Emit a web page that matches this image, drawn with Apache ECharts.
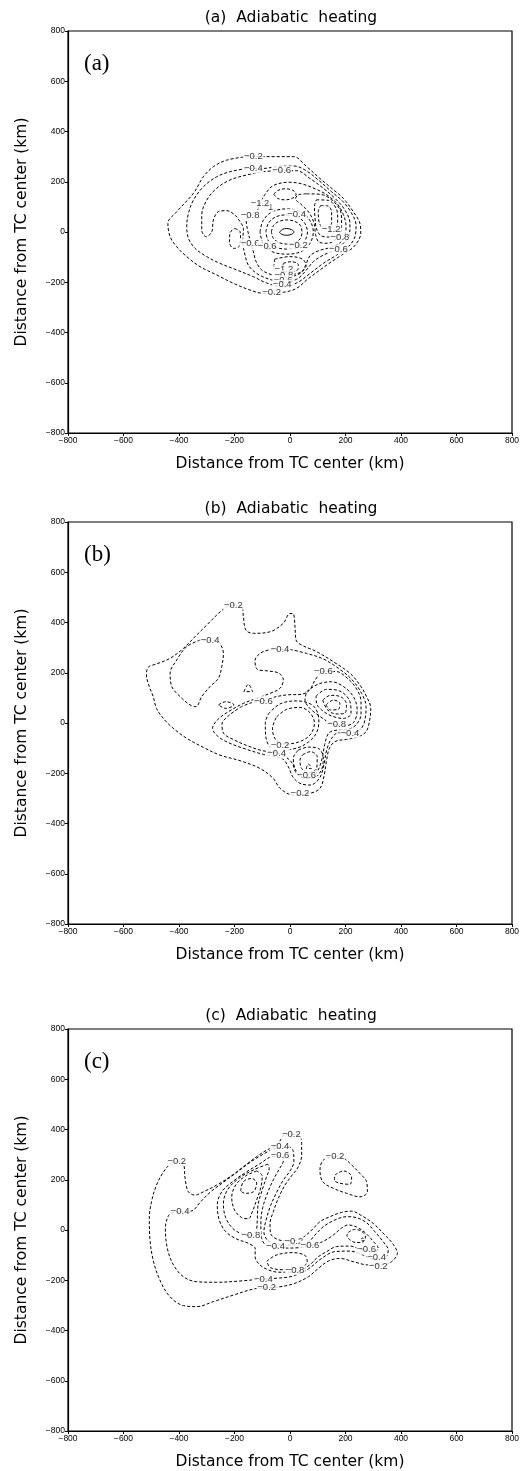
<!DOCTYPE html>
<html><head><meta charset="utf-8">
<script src="https://cdn.jsdelivr.net/npm/echarts/dist/echarts.min.js"></script>
<style>html,body{margin:0;padding:0;background:#fff}#c{width:528px;height:1471px}</style>
</head><body><div id="c"></div>
<script>
// ---------- Panel (a) contour lines, km ----------
const A_m02 = [[-156,300],[12,300],[60,260],[108,213],[150,174],[192,134],[228,81],[252,34],[255,-5],[240,-45],[216,-72],[186,-92],[150,-118],[108,-151],[60,-191],[24,-224],[-24,-240],[-96,-244],[-144,-231],[-204,-204],[-264,-171],[-324,-138],[-372,-98],[-408,-59],[-432,-19],[-440,34],[-408,81],[-348,154],[-312,220],[-276,260],[-228,286],[-156,300]];
const A_m04 = [[-156,253],[-216,240],[-264,220],[-312,180],[-348,127],[-366,74],[-372,21],[-366,-25],[-342,-65],[-300,-98],[-252,-125],[-192,-151],[-132,-178],[-84,-203],[-30,-218],[24,-203],[72,-165],[120,-125],[168,-92],[210,-59],[234,-19],[238,28],[222,74],[192,120],[150,160],[102,207],[54,247],[12,263],[-48,260],[-96,253],[-156,253]];
const A_m06 = [[-36,244],[24,244],[72,213],[120,174],[162,134],[198,87],[216,34],[214,-12],[192,-45],[162,-72],[120,-92],[84,-118],[54,-158],[24,-188],[-24,-200],[-72,-189],[-120,-165],[-150,-132],[-162,-92],[-170,-39],[-168,14],[-180,41],[-198,67],[-228,85],[-258,81],[-276,48],[-282,1],[-302,-19],[-318,8],[-318,67],[-300,127],[-264,174],[-216,207],[-156,227],[-96,240],[-36,244]];
const A_m06b = [[-199,14],[-180,1],[-178,-32],[-186,-61],[-204,-65],[-218,-39],[-216,-3],[-199,14]];
const A_m08 = [[-144,65],[-120,81],[-108,114],[-90,150],[-60,185],[0,198],[48,190],[90,172],[130,150],[168,115],[192,70],[202,20],[196,-20],[178,-45],[144,-62],[102,-75],[72,-95],[58,-128],[42,-160],[12,-176],[-24,-180],[-66,-170],[-102,-151],[-122,-118],[-132,-79],[-144,-32],[-154,14],[-158,48],[-144,65]];
const A_m10n = [[-58,150],[-45,165],[-18,172],[10,166],[22,150],[10,135],[-18,128],[-45,134],[-58,150]];
const A_z00 = [[-38,-2],[-28,10],[-12,14],[6,9],[14,0],[6,-9],[-12,-13],[-28,-10],[-38,-2]];
const A_r02 = [[-67,0],[-60,25],[-40,42],[-12,48],[18,42],[38,25],[43,0],[38,-25],[18,-42],[-12,-48],[-40,-42],[-60,-25],[-67,0]];
const A_r04 = [[-87,0],[-78,35],[-52,60],[-12,68],[28,60],[53,35],[63,0],[53,-35],[28,-60],[-12,-68],[-52,-60],[-78,-35],[-87,0]];
const A_r06 = [[-108,0],[-97,45],[-65,80],[-12,92],[40,80],[72,45],[84,0],[72,-45],[40,-78],[-12,-88],[-65,-78],[-97,-45],[-108,0]];
const A_ne14 = [[110,105],[135,104],[150,80],[150,40],[140,15],[120,15],[105,40],[102,80],[110,105]];
const A_ne12 = [[95,128],[138,126],[166,95],[172,50],[163,5],[140,-20],[112,-15],[95,15],[90,60],[88,100],[95,128]];
const A_ne10 = [[60,152],[110,150],[160,118],[185,70],[186,20],[168,-25],[135,-45],[105,-40],[92,-10],[88,30],[70,75],[40,110],[20,132],[30,148],[60,152]];
const A_s12 = [[-25,-125],[5,-118],[30,-130],[28,-150],[0,-158],[-25,-150],[-25,-125]];
const A_s10 = [[-55,-108],[0,-98],[45,-108],[58,-135],[42,-158],[10,-168],[-35,-163],[-58,-142],[-55,-108]];
const A_labels = [[-132,300,'-0.2'],[-132,253,'-0.4'],[-30,244,'-0.6'],[-144,65,'-0.8'],[-80,98,'-1'],[-108,112,'-1.2'],[24,72,'-0.4'],[-144,-45,'-0.6'],[-82,-56,'-0.6'],[30,-55,'-0.2'],[148,10,'-1.2'],[180,-20,'-0.8'],[174,-69,'-0.6'],[-22,-150,'-1.2'],[-22,-172,'-0.8'],[-25,-192,'-0.6'],[-28,-210,'-0.4'],[-66,-242,'-0.2']];

// ---------- Panel (b) ----------
const B_m02 = [[-204,470],[-174,463],[-168,423],[-159,370],[-132,357],[-72,363],[-24,397],[0,436],[12,434],[18,383],[22,330],[42,310],[96,284],[156,244],[216,198],[252,151],[276,105],[291,58],[286,5],[274,-35],[246,-55],[204,-65],[162,-74],[142,-101],[132,-147],[122,-214],[108,-260],[72,-280],[12,-287],[-36,-260],[-60,-221],[-108,-181],[-180,-150],[-252,-128],[-312,-97],[-372,-61],[-421,-21],[-457,19],[-481,58],[-493,105],[-507,145],[-517,191],[-511,222],[-481,235],[-433,257],[-384,297],[-342,344],[-300,390],[-258,436],[-228,463],[-204,470]];
const B_m04a = [[-324,330],[-372,304],[-408,251],[-432,198],[-426,145],[-396,105],[-360,72],[-339,65],[-318,105],[-288,145],[-258,178],[-246,224],[-240,277],[-252,317],[-264,328],[-324,330]];
const B_m04 = [[0,293],[60,277],[120,255],[174,218],[222,174],[258,118],[274,65],[270,12],[254,-25],[216,-41],[174,-39],[150,-61],[132,-108],[122,-167],[106,-220],[72,-247],[36,-240],[10,-214],[-6,-174],[-24,-145],[-48,-135],[-96,-125],[-156,-105],[-216,-81],[-258,-55],[-279,-21],[-262,12],[-222,45],[-168,78],[-120,98],[-72,118],[-36,138],[-24,171],[-39,198],[-78,207],[-118,214],[-126,248],[-108,277],[-78,290],[-36,293],[0,293]];
const B_m06 = [[-180,62],[-138,81],[-96,88],[-60,102],[-10,112],[40,114],[70,130],[90,170],[120,205],[165,205],[210,175],[240,135],[256,85],[256,35],[240,-5],[210,-25],[170,-28],[140,-40],[125,-85],[116,-140],[100,-190],[78,-215],[48,-218],[22,-198],[8,-160],[-12,-138],[-50,-118],[-100,-110],[-150,-92],[-200,-68],[-240,-40],[-245,-5],[-220,30],[-180,62]];
const B_e02 = [[-48,25],[-12,54],[36,62],[72,41],[88,-1],[72,-48],[30,-76],[-22,-84],[-53,-64],[-63,-21],[-48,25]];
const B_e04 = [[-78,36],[-36,76],[24,88],[84,68],[104,12],[96,-38],[66,-76],[24,-100],[-34,-108],[-72,-94],[-87,-55],[-89,-1],[-78,36]];
const B_ne08 = [[60,125],[102,155],[150,164],[194,144],[230,102],[242,52],[228,1],[190,-12],[144,1],[106,28],[72,58],[54,91],[60,125]];
const B_ne10 = [[94,107],[132,134],[180,127],[216,85],[220,38],[192,18],[150,28],[114,52],[96,78],[94,107]];
const B_ne12 = [[118,91],[146,110],[182,105],[204,72],[196,38],[166,36],[134,54],[118,91]];
const B_ne14 = [[130,72],[156,91],[180,78],[174,54],[146,52],[130,72]];
const B_s06 = [[30,-108],[66,-96],[106,-104],[120,-141],[112,-190],[82,-220],[42,-214],[18,-181],[12,-140],[30,-108]];
const B_s08 = [[46,-126],[74,-114],[98,-134],[96,-180],[67,-198],[42,-181],[36,-148],[46,-126]];
const B_s10 = [[58,-181],[67,-163],[77,-181],[58,-181]];
const B_t1 = [[-166,125],[-150,154],[-135,125],[-166,125]];
const B_t2 = [[-258,72],[-231,85],[-202,72],[-231,58],[-258,72]];
const B_labels = [[-204,470,'-0.2'],[-288,330,'-0.4'],[-36,293,'-0.4'],[-96,88,'-0.6'],[120,207,'-0.6'],[168,-5,'-0.8'],[216,-41,'-0.4'],[-36,-90,'-0.2'],[-48,-122,'-0.4'],[60,-210,'-0.6'],[36,-281,'-0.2']];

// ---------- Panel (c) ----------
const C_m02 = [[-408,274],[-384,265],[-378,205],[-366,152],[-342,139],[-312,152],[-264,179],[-216,212],[-168,252],[-120,292],[-84,318],[-48,338],[-30,365],[-18,381],[30,378],[42,345],[42,298],[30,252],[6,216],[-18,179],[-42,126],[-60,73],[-72,26],[-70,-13],[-48,-36],[-12,-44],[36,-36],[72,-7],[108,33],[144,53],[186,70],[222,75],[258,57],[300,26],[342,-20],[372,-57],[387,-93],[366,-126],[336,-139],[282,-139],[228,-126],[180,-113],[138,-124],[102,-153],[66,-186],[18,-212],[-36,-226],[-84,-230],[-132,-235],[-204,-259],[-276,-285],[-336,-305],[-384,-301],[-433,-265],[-469,-199],[-493,-120],[-505,-33],[-507,46],[-499,113],[-481,179],[-457,229],[-433,261],[-408,274]];
const C_m04 = [[-396,73],[-354,76],[-324,110],[-288,150],[-240,190],[-192,229],[-144,269],[-96,302],[-60,322],[-6,332],[12,312],[14,272],[0,235],[-24,199],[-48,150],[-70,97],[-86,40],[-94,-7],[-78,-44],[-36,-57],[12,-60],[60,-53],[90,-20],[120,13],[162,40],[204,53],[240,49],[276,29],[306,-7],[336,-47],[354,-80],[346,-106],[300,-116],[264,-100],[216,-84],[162,-86],[114,-113],[66,-155],[12,-183],[-48,-192],[-108,-196],[-180,-203],[-264,-208],[-336,-206],[-384,-186],[-420,-139],[-442,-73],[-449,7],[-438,57],[-420,70],[-396,73]];
const C_m06 = [[-36,294],[-66,292],[-108,264],[-156,232],[-204,195],[-246,152],[-262,99],[-255,40],[-231,-7],[-192,-36],[-150,-53],[-125,-75],[-126,-105],[-112,-135],[-80,-158],[-40,-168],[0,-168],[40,-160],[72,-138],[100,-108],[132,-86],[168,-66],[216,-64],[252,-76],[276,-80],[300,-86],[318,-73],[300,-45],[270,-10],[240,12],[210,20],[186,8],[156,-20],[120,-45],[72,-63],[36,-70],[-10,-72],[-60,-68],[-92,-55],[-104,-20],[-105,30],[-98,90],[-80,150],[-60,200],[-40,240],[-25,270],[-22,290],[-36,294]];
const C_a08 = [[-80,262],[-130,240],[-185,205],[-225,160],[-240,105],[-232,50],[-205,5],[-168,-18],[-141,-22],[-122,-5],[-118,40],[-115,100],[-100,160],[-85,210],[-75,245],[-80,262]];
const C_a10 = [[-120,235],[-160,215],[-195,180],[-210,130],[-200,80],[-175,50],[-150,45],[-135,75],[-120,120],[-105,170],[-100,215],[-120,235]];
const C_a12 = [[-178,155],[-168,192],[-138,205],[-120,186],[-132,152],[-162,146],[-178,155]];
const C_b08 = [[-84,-125],[-50,-100],[10,-90],[55,-102],[62,-128],[35,-150],[-20,-158],[-70,-150],[-84,-125]];
const C_t08 = [[210,-10],[232,2],[258,-5],[272,-28],[262,-48],[238,-50],[215,-38],[205,-22],[210,-10]];
const C_t10 = [[256,-36],[262,-32],[268,-38],[262,-44],[256,-36]];
const C_n02 = [[162,292],[120,278],[108,239],[118,192],[156,166],[204,146],[252,132],[279,152],[276,192],[252,225],[222,259],[194,285],[162,292]];
const C_n04 = [[162,219],[192,235],[222,212],[216,182],[180,186],[160,199],[162,219]];
const C_labels = [[-408,274,'-0.2'],[5,380,'-0.2'],[-36,331,'-0.4'],[-36,296,'-0.6'],[-396,73,'-0.4'],[-141,-20,'-0.8'],[14,-46,'-0.2'],[-52,-64,'-0.4'],[72,-63,'-0.6'],[276,-79,'-0.6'],[312,-110,'-0.4'],[318,-143,'-0.2'],[18,-160,'-0.8'],[-96,-195,'-0.4'],[-84,-230,'-0.2'],[162,292,'-0.2']];

// ---------- Axis ticks & texts ----------
const axisMin = -800, axisMax = 800, axisStep = 200;
const panelTitles = ['(a)  Adiabatic  heating', '(b)  Adiabatic  heating', '(c)  Adiabatic  heating'];
const panelTags = ['(a)', '(b)', '(c)'];
const axisName = 'Distance from TC center (km)';

const panels = [
  {lines: [[-0.2,A_m02],[-0.4,A_m04],[-0.6,A_m06],[-0.6,A_m06b],[-0.8,A_m08],[-1.0,A_m10n],[0,A_z00],[-0.2,A_r02],[-0.4,A_r04],[-0.6,A_r06],[-1.4,A_ne14],[-1.2,A_ne12],[-1.0,A_ne10],[-1.2,A_s12],[-1.0,A_s10]], labels: A_labels},
  {lines: [[-0.2,B_m02],[-0.4,B_m04a],[-0.4,B_m04],[-0.6,B_m06],[-0.2,B_e02],[-0.4,B_e04],[-0.8,B_ne08],[-1.0,B_ne10],[-1.2,B_ne12],[-1.4,B_ne14],[-0.6,B_s06],[-0.8,B_s08],[-1.0,B_s10],[-0.6,B_t1],[-0.6,B_t2]], labels: B_labels},
  {lines: [[-0.2,C_m02],[-0.4,C_m04],[-0.6,C_m06],[-0.8,C_a08],[-1.0,C_a10],[-1.2,C_a12],[-0.8,C_b08],[-0.8,C_t08],[-1.0,C_t10],[-0.2,C_n02],[-0.4,C_n04]], labels: C_labels}
];

const tops = [31, 522, 1029];
const fmt = v => (v < 0 ? '\u2212' + (-v) : '' + v);
const grids = [], xAxes = [], yAxes = [], series = [], titles = [];
tops.forEach((t, i) => {
  grids.push({left: 68, top: t, width: 444, height: 402, show: true, borderColor: '#000', borderWidth: 1.2, backgroundColor: '#fff'});
  const common = {
    type: 'value', gridIndex: i, min: axisMin, max: axisMax, interval: axisStep,
    axisLine: {show: true, onZero: false, lineStyle: {color: '#000', width: 1.2}},
    axisTick: {show: true, length: 3, lineStyle: {color: '#000', width: 1}},
    splitLine: {show: false},
    axisLabel: {color: '#000', fontSize: 8.5, fontFamily: 'Liberation Sans', margin: 3, formatter: fmt},
    name: axisName, nameLocation: 'middle',
    nameTextStyle: {color: '#000', fontSize: 15.5, fontFamily: 'DejaVu Sans'}
  };
  xAxes.push(Object.assign({}, common, {nameGap: 23}));
  yAxes.push(Object.assign({}, common, {nameGap: 38}));
  titles.push({text: panelTitles[i], left: 286, top: t - 26, textAlign: 'center',
    textStyle: {fontSize: 15.5, fontWeight: 'normal', color: '#000', fontFamily: 'DejaVu Sans'}});
  titles.push({text: panelTags[i], left: 79, top: t + 16,
    textStyle: {fontSize: 23, fontWeight: 'normal', color: '#000', fontFamily: 'Liberation Serif'}});
  panels[i].lines.forEach(([lev, pts]) => {
    series.push({type: 'line', xAxisIndex: i, yAxisIndex: i, data: pts, smooth: 0.35, symbol: 'none', silent: true,
      lineStyle: {color: '#000', width: 1, type: lev >= 0 ? 'solid' : [3, 2]}, z: 2, animation: false});
  });
  series.push({type: 'scatter', xAxisIndex: i, yAxisIndex: i, data: panels[i].labels, symbolSize: 1, silent: true,
    itemStyle: {color: 'rgba(0,0,0,0)'}, z: 5, animation: false,
    label: {show: true, position: 'inside', formatter: p => p.data[2].replace('-', '\u2212'), color: '#000', fontSize: 9.5,
      fontFamily: 'Liberation Sans', backgroundColor: '#fff', padding: [0, 1]}});
});

const chart = echarts.init(document.getElementById('c'), null, {renderer: 'canvas'});
chart.setOption({animation: false, backgroundColor: '#fff', title: titles, grid: grids, xAxis: xAxes, yAxis: yAxes, series: series});
</script></body></html>
